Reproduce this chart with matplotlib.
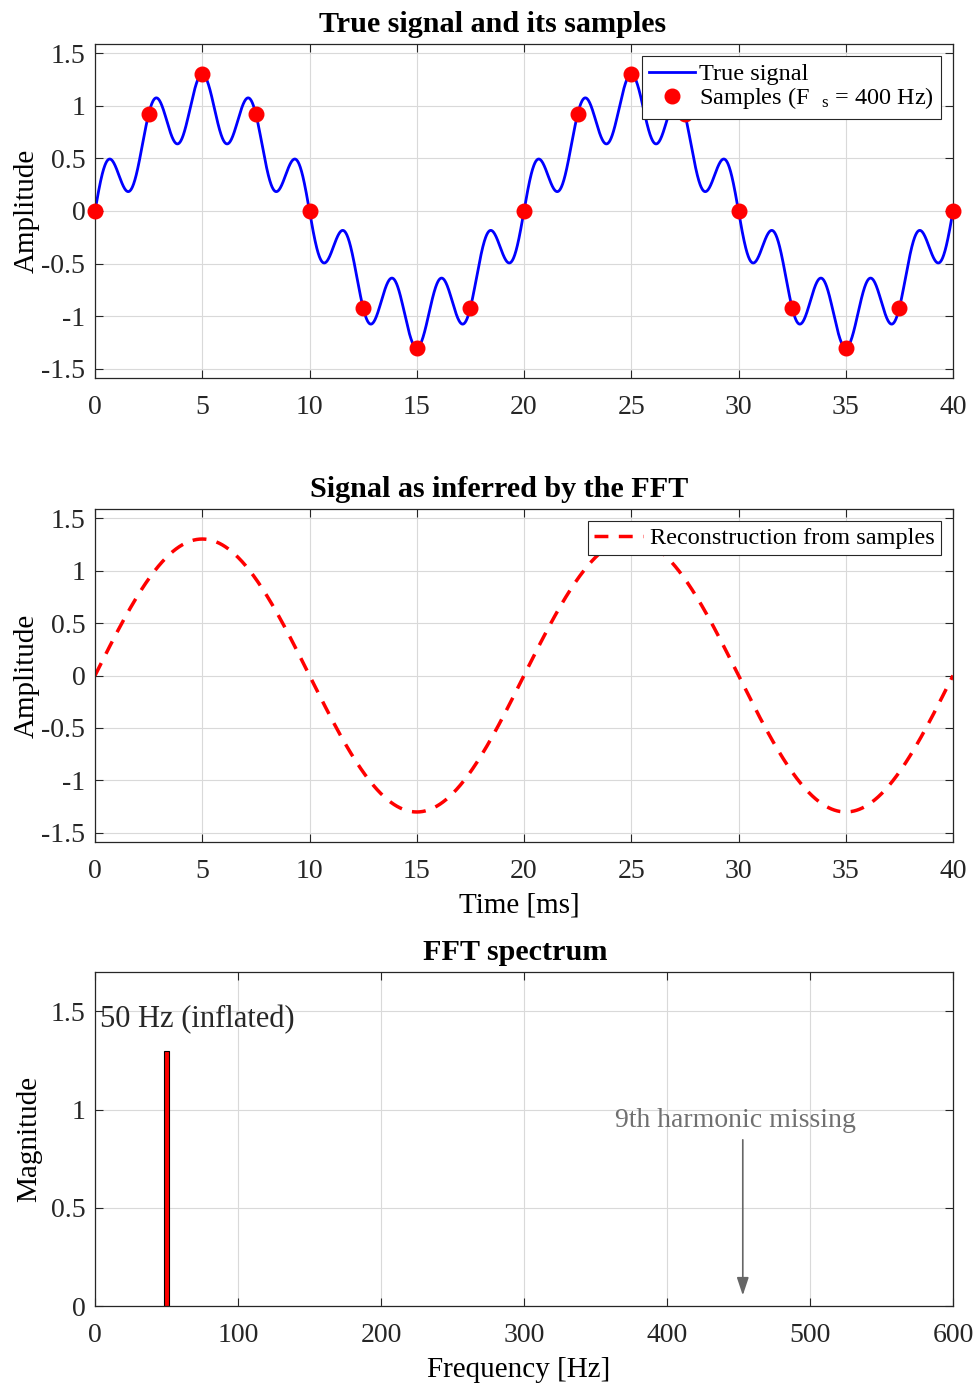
import matplotlib
matplotlib.use("Agg")
import matplotlib.pyplot as plt
import numpy as np

plt.rcParams['font.family'] = ['Liberation Serif', 'DejaVu Serif']
plt.rcParams['mathtext.fontset'] = 'custom'
plt.rcParams['mathtext.rm'] = 'Liberation Serif'
plt.rcParams['mathtext.it'] = 'Liberation Serif'
plt.rcParams['font.size'] = 20

# signal components
f0 = 50.0          # fundamental [Hz]
a0 = 1.0
f9 = 450.0         # 9th harmonic [Hz]
a9 = 0.3
fs = 400.0         # sampling rate [Hz]
t_end_ms = 40.0

# spectrum values
spec_freq = [50.0]
spec_mag = [1.3]

t_ms = np.linspace(0, t_end_ms, 4001)
t = t_ms / 1000.0
x_true = a0 * np.sin(2 * np.pi * f0 * t) + a9 * np.sin(2 * np.pi * f9 * t)

ts_ms = np.arange(0, t_end_ms + 1e-9, 1000.0 / fs)
ts = ts_ms / 1000.0
x_samp = a0 * np.sin(2 * np.pi * f0 * ts) + a9 * np.sin(2 * np.pi * f9 * ts)
x_rec = (a0 + a9) * np.sin(2 * np.pi * f0 * t)

W, H = 978, 1385
fig = plt.figure(figsize=(W / 100, H / 100), dpi=100)

def px_axes(l, r, top, bot):
    return fig.add_axes([l / W, 1 - bot / H, (r - l) / W, (bot - top) / H])

def style(ax):
    ax.grid(True, color='#d9d9d9', linewidth=0.8)
    ax.set_axisbelow(True)
    ax.tick_params(direction='in', top=True, right=True, length=6, width=0.8,
                   labelsize=20, colors='#262626')
    ax.tick_params(axis='x', pad=12)
    ax.tick_params(axis='y', pad=7)
    for s in ax.spines.values():
        s.set_color('#262626')
        s.set_linewidth(0.9)

ylim = 1.3 * 1.22
yticks = [-1.5, -1, -0.5, 0, 0.5, 1, 1.5]
ylabels = ['-1.5', '-1', '-0.5', '0', '0.5', '1', '1.5']
leg_anchor = (1 - 12 / 858, 1 - 12 / 334)
title_kw = dict(fontsize=21.7, fontweight='bold', pad=8.5)

# top: true signal and samples
ax1 = px_axes(95, 953, 44, 378)
ax1.plot(t_ms, x_true, color='#0000ff', linewidth=2.0, label='True signal')
ax1.plot(ts_ms, x_samp, 'o', color='#ff0000', markersize=10.5, linestyle='none',
         label='Samples (F  $_{\\mathrm{s}}$ = 400 Hz)', clip_on=False, zorder=5)
ax1.set_xlim(0, t_end_ms)
ax1.set_ylim(-ylim, ylim)
ax1.set_xticks(np.arange(0, 41, 5))
ax1.set_yticks(yticks)
ax1.set_yticklabels(ylabels)
ax1.set_ylabel('Amplitude', fontsize=21, labelpad=1)
ax1.set_title('True signal and its samples', x=0.463, **title_kw)
style(ax1)
leg1 = ax1.legend(loc='upper right', bbox_to_anchor=leg_anchor, fontsize=17.5,
                  frameon=True, fancybox=False, edgecolor='#262626', framealpha=1,
                  handlelength=1.9, handletextpad=0.15, borderpad=0.3,
                  labelspacing=0.0, borderaxespad=0)
leg1.get_frame().set_linewidth(0.8)
leg1.set_zorder(10)

# middle: reconstruction
ax2 = px_axes(95, 953, 509, 842)
ax2.plot(t_ms, x_rec, color='#ff0000', linewidth=2.5, linestyle=(0, (4, 3)),
         label='Reconstruction from samples')
ax2.set_xlim(0, t_end_ms)
ax2.set_ylim(-ylim, ylim)
ax2.set_xticks(np.arange(0, 41, 5))
ax2.set_yticks(yticks)
ax2.set_yticklabels(ylabels)
ax2.set_ylabel('Amplitude', fontsize=21, labelpad=1)
ax2.set_xlabel('Time [ms]', fontsize=21, labelpad=6.5, x=0.494)
ax2.set_title('Signal as inferred by the FFT', x=0.471, **title_kw)
style(ax2)
leg2 = ax2.legend(loc='upper right', bbox_to_anchor=leg_anchor, fontsize=17.5,
                  frameon=True, fancybox=False, edgecolor='#262626', framealpha=1,
                  handlelength=2.0, handletextpad=0.3, borderpad=0.25, borderaxespad=0)
leg2.get_frame().set_linewidth(0.8)

# bottom: FFT spectrum
ax3 = px_axes(95, 953, 972, 1306)
ax3.bar(spec_freq, spec_mag, width=4, color='#ff0000', edgecolor='black', linewidth=0.8)
ax3.set_xlim(0, 600)
ax3.set_ylim(0, 1.7)
ax3.set_xticks(np.arange(0, 601, 100))
ax3.set_yticks([0, 0.5, 1, 1.5])
ax3.set_yticklabels(['0', '0.5', '1', '1.5'])
ax3.set_ylabel('Magnitude', fontsize=21, labelpad=6)
ax3.set_xlabel('Frequency [Hz]', fontsize=21, labelpad=6.5, x=0.494)
ax3.set_title('FFT spectrum', x=0.490, **title_kw)
style(ax3)
ax3.text(3.5, 1.46, '50 Hz (inflated)', fontsize=22, va='center', ha='left', color='#262626')
ax3.annotate('', xy=(453, 0.04), xytext=(453, 0.86),
             arrowprops=dict(arrowstyle='-|>,head_length=0.6,head_width=0.2',
                             color='#666666', lw=1.2, mutation_scale=18))
ax3.text(448, 0.945, '9th harmonic missing', fontsize=20, va='center', ha='center',
         color='#707070')

fig.savefig('out.png', dpi=100)
